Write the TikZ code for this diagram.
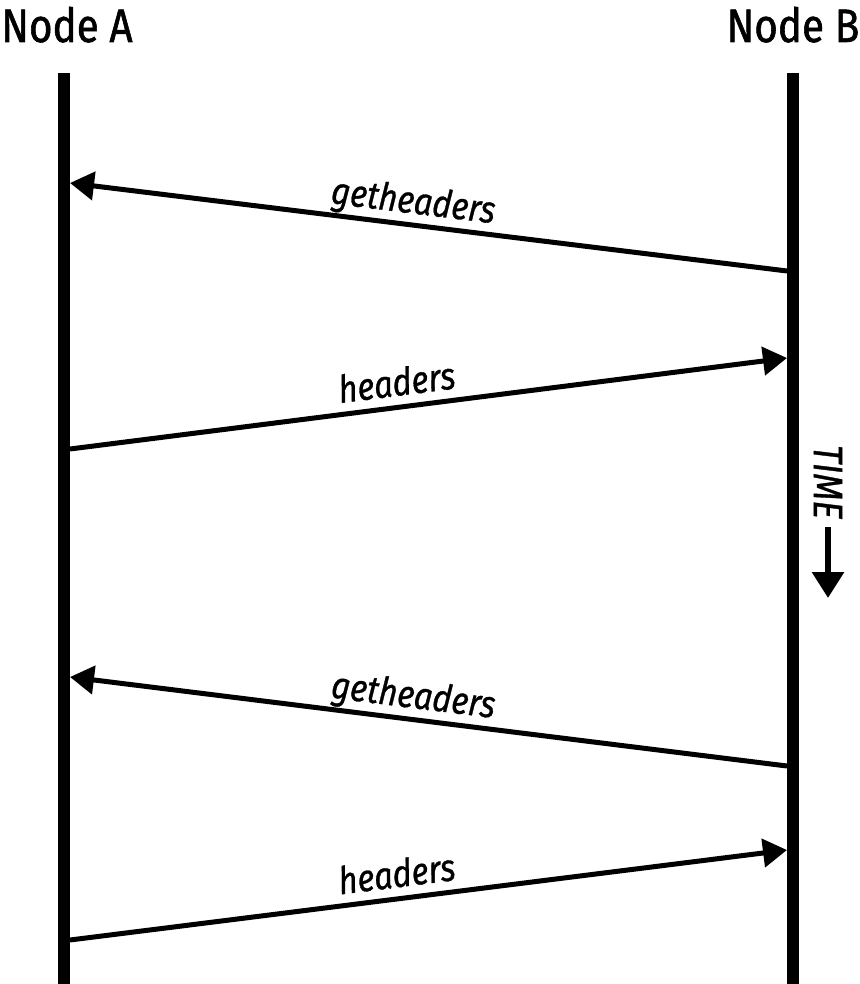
\documentclass[tikz,border=0pt]{standalone}
\usepackage{fontspec}
\setmainfont{Fira Sans}
\newfontfamily\condfont[FakeStretch=0.86,FakeBold=1.2]{Fira Sans}
\newfontfamily\labfont[FakeStretch=0.86,FakeBold=0.8]{Fira Sans}
\usetikzlibrary{arrows.meta}
\begin{document}
\begin{tikzpicture}[x=1pt,y=-1pt,
  lifeline/.style={line width=12pt},
  msg/.style={line width=5pt,-{Triangle[length=24pt,width=28pt]}},
  msglabel/.style={font=\labfont\itshape\fontsize{38}{38}\selectfont,inner sep=0pt,text depth=0pt},
  title/.style={font=\condfont\fontsize{47}{47}\selectfont,inner sep=0pt,anchor=base}]
\useasboundingbox (0,0) rectangle (859,984);
% titles
\node[title] (tA) at (67,42) {Node A};
\node[title] (tB) at (793,42) {Node B};
% lifelines
\coordinate (Atop) at (64,73);
\coordinate (Abot) at (64,984);
\coordinate (Btop) at (793,73);
\coordinate (Bbot) at (793,984);
\draw[lifeline] (Atop) -- (Abot);
\draw[lifeline] (Btop) -- (Bbot);
% message endpoints
\coordinate (b1) at (787,271); \coordinate (a1) at (70,183);
\coordinate (a2) at (70,449); \coordinate (b2) at (787,358);
\coordinate (b3) at (787,766); \coordinate (a3) at (70,677);
\coordinate (a4) at (70,940); \coordinate (b4) at (787,850);
\draw[msg] (b1) -- (a1) node[pos=0.525,msglabel,sloped,above=9pt] (l1) {getheaders};
\draw[msg] (a2) -- (b2) node[pos=0.46,msglabel,sloped,above=9pt] (l2) {headers};
\draw[msg] (b3) -- (a3) node[pos=0.525,msglabel,sloped,above=9pt] (l3) {getheaders};
\draw[msg] (a4) -- (b4) node[pos=0.46,msglabel,sloped,above=9pt] (l4) {headers};
% time
\node[font=\labfont\itshape\fontsize{41}{41}\selectfont,rotate=-90,inner sep=0pt] (time) at (828,482) {TIME};
\coordinate (t1) at (828,527);
\coordinate (t2) at (828,598);
\draw[line width=6pt,-{Triangle[length=26pt,width=31pt]}] (t1) -- (t2);
\end{tikzpicture}
\end{document}
